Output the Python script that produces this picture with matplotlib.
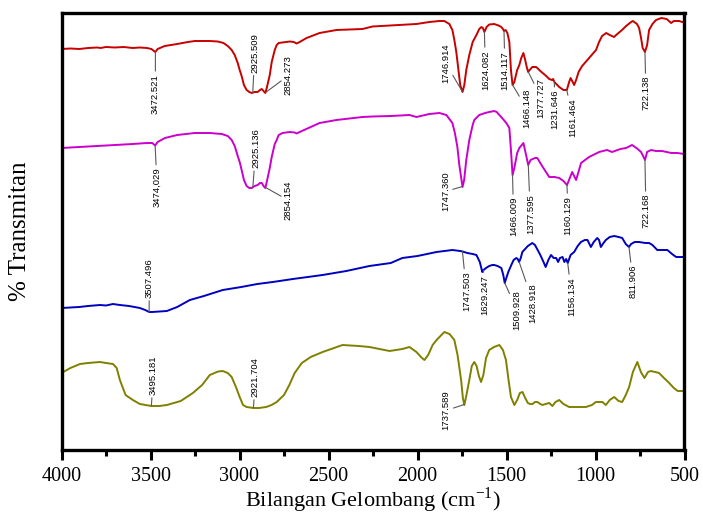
# FTIR spectra, four samples stacked with offset (transmittance in arbitrary units)
import numpy as np
import matplotlib
matplotlib.use('Agg')
import matplotlib.pyplot as plt

plt.rcParams['font.family'] = ['Liberation Serif', 'DejaVu Serif']
plt.rcParams['mathtext.fontset'] = 'stix'

# curve values: wavenumber (cm-1) and vertical reading (grows downward, axis is inverted)
red_wn = [4000, 3950, 3900, 3850, 3800, 3780, 3750, 3700, 3650, 3600, 3560, 3520, 3495, 3473, 3460,
          3420, 3350, 3290, 3250, 3167, 3122, 3090, 3066, 3044, 3027, 3010, 2999, 2988, 2975, 2960,
          2945, 2931, 2915, 2898, 2885, 2875, 2865, 2855, 2847, 2830, 2819, 2802, 2791, 2780, 2758,
          2735, 2718, 2695, 2679, 2662, 2623, 2550, 2455, 2380, 2309, 2253, 2150, 2045, 2006, 1933,
          1877, 1849, 1821, 1804, 1793, 1782, 1770, 1760, 1747, 1737, 1726, 1709, 1690, 1669, 1653,
          1641, 1633, 1624, 1612, 1597, 1569, 1545, 1529, 1520, 1514, 1505, 1495, 1484, 1475, 1466,
          1456, 1440, 1428, 1417, 1405, 1395, 1385, 1378, 1370, 1355, 1333, 1310, 1290, 1277, 1260,
          1245, 1238, 1231, 1220, 1204, 1180, 1161, 1148, 1140, 1131, 1120, 1109, 1095, 1075, 1036,
          997, 980, 963, 940, 920, 896, 884, 851, 828, 800, 790, 767, 755, 744, 735, 722, 710, 699,
          680, 660, 630, 600, 575, 560, 530, 513, 500]
red_t = [49, 48.5, 49, 48, 47.5, 48, 47, 47.5, 47, 48, 47.5, 48, 49, 52, 49,
         46, 44, 42, 41, 41, 41.5, 43, 46, 50, 55, 63, 70, 76, 85, 90,
         92, 93, 92, 92, 90, 89, 91, 93, 88, 75, 62, 50, 45, 43, 42.5,
         42, 41.5, 42, 43.5, 42, 38, 33, 30, 29.5, 29, 26.5, 25.5, 24.5, 24, 22,
         21, 21, 24, 30, 40, 52, 70, 85, 92, 85, 70, 55, 42, 35, 29,
         27, 28, 32, 27, 24.5, 24, 25.5, 27, 29, 31, 30, 33, 42, 70, 85,
         82, 70, 65, 58, 53, 60, 68, 72, 70, 67, 67, 71, 74, 76, 79,
         80, 79, 82, 84, 87, 90, 90, 82, 78, 81, 85, 80, 72, 66, 58,
         50, 42, 36, 33, 35, 37, 35, 30, 26, 22, 21, 24, 28, 38, 48, 52, 45, 30,
         24, 20, 18, 19, 23, 21, 21, 22, 22]

mag_wn = [4000, 3900, 3800, 3700, 3600, 3520, 3490, 3474, 3460, 3419, 3350, 3251, 3167, 3100, 3066,
          3044, 3027, 3010, 2999, 2988, 2975, 2960, 2945, 2931, 2915, 2898, 2885, 2875, 2865, 2855,
          2847, 2830, 2819, 2802, 2791, 2780, 2758, 2718, 2690, 2679, 2662, 2550, 2455, 2309, 2253,
          2150, 2045, 2006, 1933, 1877, 1838, 1804, 1790, 1776, 1765, 1747, 1738, 1726, 1709, 1690,
          1681, 1653, 1620, 1597, 1569, 1555, 1540, 1520, 1501, 1484, 1475, 1466, 1456, 1440, 1428,
          1405, 1390, 1378, 1365, 1340, 1327, 1300, 1260, 1230, 1204, 1180, 1160, 1131, 1120, 1109,
          1081, 1036, 980, 935, 907, 860, 828, 795, 770, 744, 730, 722, 710, 688, 660, 626, 600, 575,
          540, 500]
mag_t = [148, 147, 146, 145, 144, 143, 143, 145.5, 142, 138, 135, 133, 133, 134, 136,
         140, 146, 156, 162, 170, 180, 186, 188, 188, 186, 185, 183, 183, 186, 188,
         182, 168, 157, 144, 140, 135, 133, 132, 132.5, 133.5, 132, 123, 120, 117, 116.5,
         116, 115, 117, 114, 113, 115, 123, 133, 147, 165, 187, 180, 160, 140, 125,
         120, 115, 113, 112, 111, 112, 115, 119, 123, 128, 150, 175, 168, 153, 148,
         143, 155, 165, 160, 158, 158, 166, 177, 177, 178, 181, 185, 172, 176, 180,
         163, 157, 152, 150, 152, 149, 148, 145, 148, 152, 157, 160, 152, 150, 151, 151, 152, 153,
         153, 154]

blue_wn = [4000, 3950, 3900, 3851, 3784, 3750, 3711, 3672, 3620, 3560, 3530, 3507, 3490, 3450, 3408,
           3350, 3279, 3200, 3094, 2990, 2900, 2813, 2700, 2533, 2400, 2270, 2150, 2085, 2000, 1893,
           1804, 1760, 1747, 1720, 1690, 1669, 1650, 1636, 1629, 1615, 1597, 1580, 1569, 1550, 1529,
           1518, 1510, 1501, 1490, 1473, 1460, 1445, 1437, 1429, 1420, 1411, 1380, 1355, 1340, 1325,
           1310, 1292, 1280, 1265, 1250, 1235, 1221, 1210, 1200, 1185, 1175, 1165, 1156, 1140, 1120,
           1100, 1082, 1060, 1045, 1026, 1010, 990, 980, 970, 955, 942, 920, 895, 870, 850, 830, 812,
           800, 780, 755, 720, 699, 680, 653, 620, 596, 570, 547, 520, 500]
blue_t = [308, 307.5, 307, 306, 305, 305.5, 304, 305, 306, 308, 310, 312, 312, 311.5, 311,
          307, 300, 296, 290, 287, 284, 282, 279, 275, 271, 266, 263, 258, 256, 252,
          250, 251, 251.5, 253, 254, 255, 262, 272, 270, 268, 266, 265, 265, 266, 268,
          275, 283, 278, 272, 265, 260, 258, 259, 262, 258, 252, 246, 243, 245, 250,
          255, 262, 267, 260, 255, 258, 258, 262, 258, 257, 262, 259, 263, 255, 252,
          246, 242, 240, 240, 247, 242, 238, 240, 247, 243, 240, 237, 236, 237, 238, 244, 247,
          244, 242, 242, 243, 243, 245, 250, 250, 250, 254, 257, 257, 257]

olive_wn = [4000, 3950, 3896, 3851, 3784, 3750, 3711, 3690, 3672, 3640, 3599, 3560, 3495, 3450, 3408,
            3330, 3262, 3210, 3167, 3120, 3094, 3066, 3044, 3020, 2999, 2980, 2960, 2922, 2890, 2850,
            2820, 2791, 2750, 2720, 2690, 2650, 2600, 2533, 2421, 2330, 2270, 2157, 2085, 2045, 2006,
            1975, 1961, 1940, 1915, 1893, 1849, 1820, 1793, 1775, 1755, 1745, 1737, 1725, 1709, 1695,
            1681, 1668, 1655, 1643, 1630, 1615, 1597, 1570, 1540, 1520, 1503, 1490, 1475, 1456, 1440,
            1425, 1410, 1395, 1380, 1368, 1354, 1340, 1326, 1310, 1298, 1280, 1260, 1242, 1225, 1204,
            1180, 1148, 1100, 1054, 1020, 998, 961, 942, 920, 895, 870, 850, 830, 811, 790, 765, 745,
            725, 705, 690, 665, 643, 615, 586, 560, 538, 500]
olive_t = [373, 368, 364, 363, 362, 363, 364, 368, 380, 395, 400, 404, 406, 406, 405,
           401, 393, 385, 375, 371.5, 371, 373, 377, 387, 397, 405, 407, 408, 408, 407,
           405, 402, 395, 385, 373, 363, 357, 352, 345, 346, 347, 351, 349, 347, 352,
           358, 360, 355, 345, 340, 332, 334, 340, 355, 380, 398, 405, 395, 380, 366,
           362, 366, 376, 382, 375, 358, 350, 347, 345, 350, 360, 378, 397, 405, 400,
           393, 392, 398, 403, 404, 404, 402, 402, 404, 405, 404, 403, 406, 402, 400,
           404, 407, 407, 407, 405, 402, 402, 405, 400, 397, 401, 402, 395, 387, 372, 362, 372,
           378, 372, 371, 372, 373, 378, 383, 388, 391, 391]

# peak labels: (label, wavenumber, dx px, dy px, va) ; dy > 0 means below the curve
red_labels = [('3472.521', 3472.5, 0, 22, 'top'), ('2925.509', 2925.5, 2, -20, 'bottom'),
              ('2854.273', 2854.3, 23, -17, 'center'), ('1746.914', 1746.9, -17, -29, 'center'),
              ('1624.082', 1624.1, 1, 18, 'top'), ('1514.117', 1514.1, 1, 20, 'top'),
              ('1466.148', 1466.1, 14, 4, 'top'), ('1377.727', 1377.7, 13, 6, 'top'),
              ('1231.646', 1231.6, 1, 8, 'top'), ('1161.464', 1161.5, 6, 8, 'top'),
              ('722.138', 722.1, 1, 24, 'top')]
mag_labels = [('3474,029', 3474.0, 2, 22, 'top'), ('2925.136', 2925.1, 3, -19, 'bottom'),
              ('2854.154', 2854.2, 23, 13, 'center'), ('1747.360', 1747.4, -17, 5, 'center'),
              ('1466.009', 1466.0, 1, 22, 'top'), ('1377.595', 1377.6, 2, 29, 'top'),
              ('1160.129', 1160.1, 1, 11, 'top'), ('722.168', 722.2, 1, 34, 'top')]
blue_labels = [('3507.496', 3507.5, 0, -14, 'bottom'), ('1747.503', 1747.5, 4, 20, 'top'),
               ('1629.247', 1629.2, 1, 5, 'top'), ('1509.928', 1509.9, 12, 7, 'top'),
               ('1428.918', 1428.9, 14, 21, 'top'), ('1156.134', 1156.1, 4, 14, 'top'),
               ('811.906', 811.9, 4, 18, 'top')]
olive_labels = [('3495.181', 3495.2, 2, -11, 'bottom'), ('2921.704', 2921.7, 2, -11, 'bottom'),
                ('1737.589', 1737.6, -18, 6, 'center')]

series = [(red_wn, red_t, '#C80000', red_labels),
          (mag_wn, mag_t, '#CC00CC', mag_labels),
          (blue_wn, blue_t, '#0000C0', blue_labels),
          (olive_wn, olive_t, '#808000', olive_labels)]

fig = plt.figure(figsize=(7.03, 5.2), dpi=100)
ax = fig.add_axes([61.5 / 703, 1 - 450 / 520, 623 / 703, 437 / 520])

for wn, t, col, labels in series:
    ax.plot(wn, t, color=col, lw=1.4)
    for lab, pk, dx, dy, va in labels:
        yp = np.interp(pk, wn[::-1], t[::-1])
        ax.annotate(lab, xy=(pk, yp), xytext=(dx * 0.72, -dy * 0.72), textcoords='offset points',
                    rotation=90, ha='center', va=va, fontsize=6.8, family='Liberation Sans',
                    arrowprops=dict(arrowstyle='-', color='0.35', lw=0.8, shrinkA=0, shrinkB=0))

ax.set_xlim(4000, 500)
ax.set_ylim(450, 13)
ax.set_xticks(np.arange(4000, 499, -500))
ax.set_xticks(np.arange(3750, 500, -500), minor=True)
ax.set_yticks([])
ax.tick_params(axis='x', which='major', direction='out', length=7, width=2.2, labelsize=14.5, pad=5)
ax.tick_params(axis='x', which='minor', direction='out', length=4, width=2.2)
for s in ax.spines.values():
    s.set_linewidth(2.4)

ax.set_xlabel(r'Bilangan Gelombang (cm$^{\mathregular{-1}}$)', fontsize=16, labelpad=0)
ax.set_ylabel('% Transmitan', fontsize=18, labelpad=22)

fig.savefig('out.png', dpi=100)
